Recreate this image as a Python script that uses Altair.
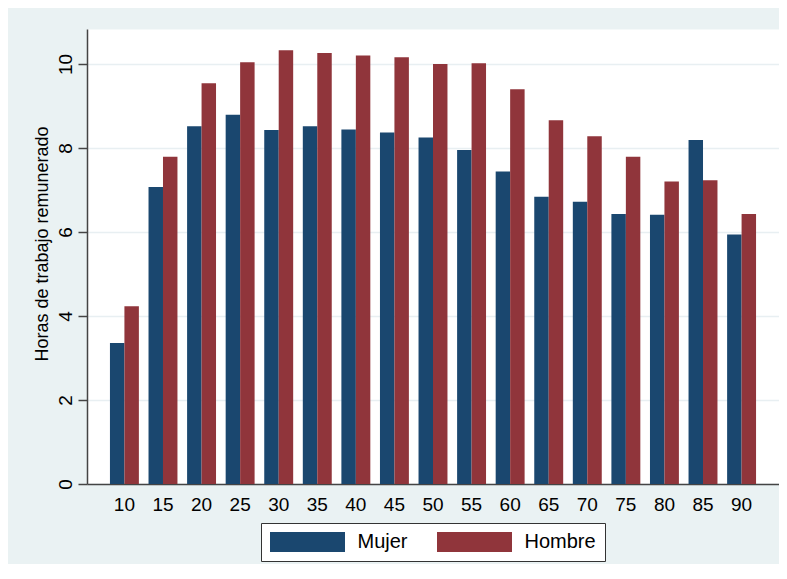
import altair as alt
import pandas as pd

edades = ["10", "15", "20", "25", "30", "35", "40", "45", "50",
          "55", "60", "65", "70", "75", "80", "85", "90"]
mujer = [3.36, 7.07, 8.52, 8.79, 8.43, 8.52, 8.44, 8.37, 8.25,
         7.95, 7.44, 6.84, 6.72, 6.43, 6.41, 8.19, 5.94]
hombre = [4.23, 7.79, 9.54, 10.04, 10.33, 10.26, 10.20, 10.16, 10.00,
          10.02, 9.40, 8.66, 8.28, 7.79, 7.20, 7.23, 6.43]
series = ["Mujer", "Hombre"]
colores = ["#1A476F", "#90353B"]
y_ticks = [0, 2, 4, 6, 8, 10]

rows = []
for i, e in enumerate(edades):
    rows.append({"edad": e, "sexo": "Mujer", "horas": mujer[i]})
    rows.append({"edad": e, "sexo": "Hombre", "horas": hombre[i]})
df = pd.DataFrame(rows)

FONT = "Liberation Sans"
# wide legend swatch: 75 x 20 px when symbolSize = 400 (scale 10)
legend_path = "M-3.75,-1L3.75,-1L3.75,1L-3.75,1Z"

chart = alt.Chart(df).mark_bar().encode(
    x=alt.X("edad:N", sort=edades, title=None,
            scale=alt.Scale(paddingInner=0.25, paddingOuter=0.595),
            axis=alt.Axis(labelAngle=0, ticks=False, labelPadding=11,
                          labelFontSize=19, labelFont=FONT, labelColor="#000",
                          domainColor="#444", domainWidth=1.5, grid=False)),
    xOffset=alt.XOffset("sexo:N", sort=series,
                        scale=alt.Scale(paddingInner=0, paddingOuter=0)),
    y=alt.Y("horas:Q",
            scale=alt.Scale(domain=[0, 10.8333], nice=False, zero=True),
            axis=alt.Axis(values=y_ticks, title="Horas de trabajo remunerado",
                          labelAngle=270, labelAlign="center",
                          labelBaseline="alphabetic", labelPadding=7,
                          labelFontSize=19, labelFont=FONT, labelColor="#000",
                          tickSize=9, tickColor="#444", tickWidth=1.5,
                          domainColor="#444", domainWidth=1.5,
                          grid=True, gridColor="#E8EFF2", gridWidth=1.5,
                          titleFont=FONT, titleFontSize=18,
                          titleFontWeight="normal", titleColor="#000",
                          titleAngle=270, titleAlign="center",
                          titleBaseline="alphabetic", titleX=-40, titleY=214.5)),
    color=alt.Color("sexo:N", sort=series,
                    scale=alt.Scale(domain=series, range=colores),
                    legend=alt.Legend(orient="none", legendX=174, legendY=494,
                                      direction="horizontal", columns=2,
                                      title=None, symbolType=legend_path,
                                      symbolSize=400, symbolStrokeWidth=0,
                                      symbolOpacity=1, symbolOffset=27.5,
                                      labelFontSize=20, labelFont=FONT,
                                      labelColor="#000", labelOffset=40,
                                      columnPadding=29, padding=9,
                                      strokeColor="#333", fillColor="white")),
).properties(
    width=692, height=455,
    autosize=alt.AutoSizeParams(type="none"),
    padding={"left": 79, "top": 21, "right": 0, "bottom": 80},
    background="#EAF2F3",
).configure_view(fill="white", stroke="transparent")

chart.save("out.html", embed_options={"renderer": "svg", "actions": False})
